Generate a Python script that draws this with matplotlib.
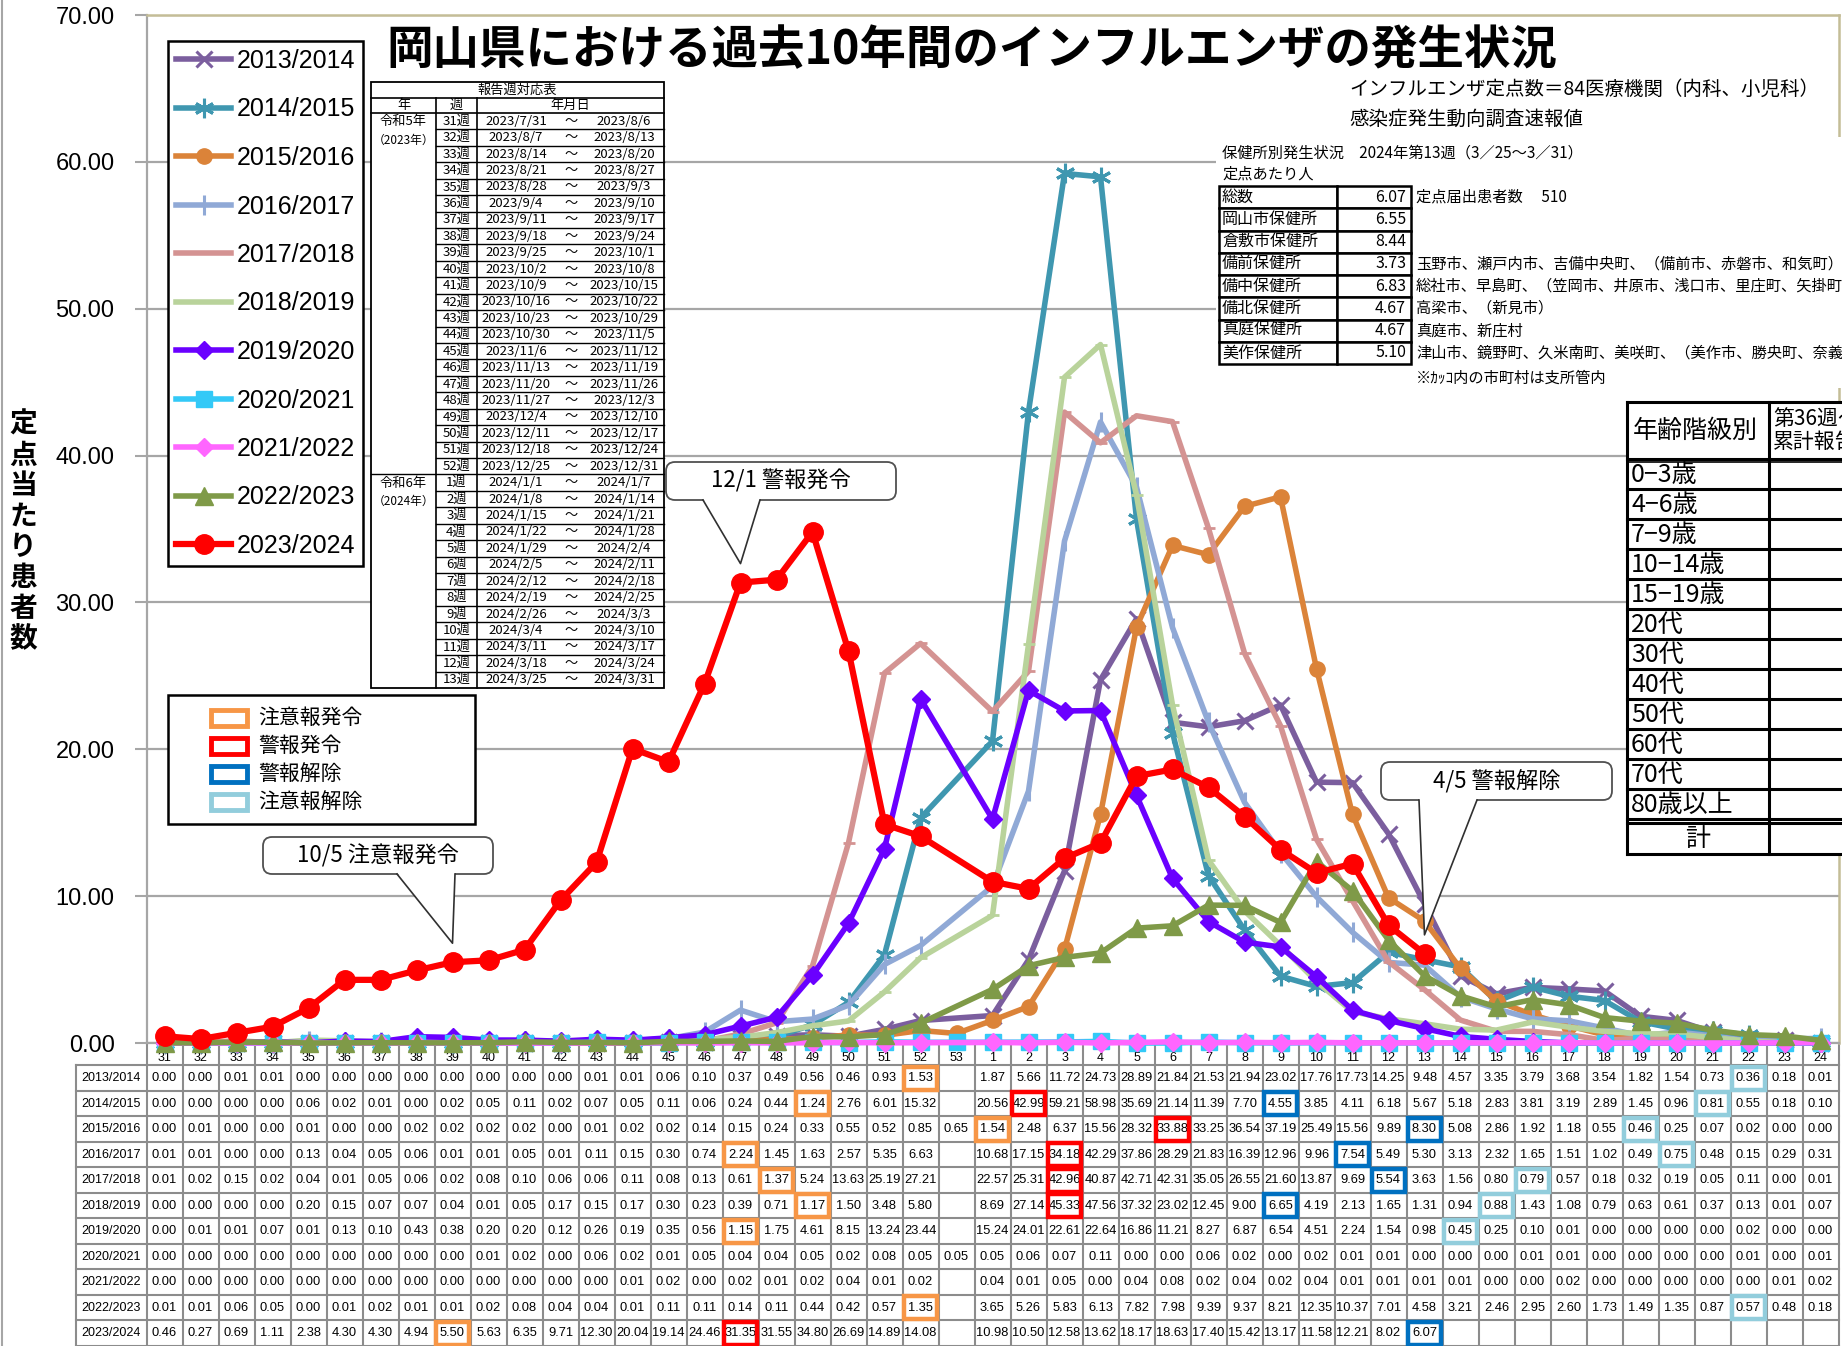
import numpy as np
import matplotlib.pyplot as plt
from matplotlib.patches import Rectangle, FancyBboxPatch, Polygon

plt.rcParams['font.family'] = ['Liberation Sans', 'Noto Sans CJK JP', 'DejaVu Sans']
JP = ['Noto Sans CJK JP', 'DejaVu Sans']

# ---- data -------------------------------------------------------------
weeks = ['31', '32', '33', '34', '35', '36', '37', '38', '39', '40', '41', '42',
         '43', '44', '45', '46', '47', '48', '49', '50', '51', '52', '53',
         '1', '2', '3', '4', '5', '6', '7', '8', '9', '10', '11', '12', '13',
         '14', '15', '16', '17', '18', '19', '20', '21', '22', '23', '24']

seasons = ['2013/2014', '2014/2015', '2015/2016', '2016/2017', '2017/2018',
           '2018/2019', '2019/2020', '2020/2021', '2021/2022', '2022/2023', '2023/2024']

s2013 = [0.00, 0.00, 0.01, 0.01, 0.00, 0.00, 0.00, 0.00, 0.00, 0.00, 0.00, 0.00, 0.01,
         0.01, 0.06, 0.10, 0.37, 0.49, 0.56, 0.46, 0.93, 1.53, None,
         1.87, 5.66, 11.72, 24.73, 28.89, 21.84, 21.53, 21.94, 23.02, 17.76, 17.73, 14.25,
         9.48, 4.57, 3.35, 3.79, 3.68, 3.54, 1.82, 1.54, 0.73, 0.36, 0.18, 0.01]
s2014 = [0.00, 0.00, 0.00, 0.00, 0.06, 0.02, 0.01, 0.00, 0.02, 0.05, 0.11, 0.02, 0.07,
         0.05, 0.11, 0.06, 0.24, 0.44, 1.24, 2.76, 6.01, 15.32, None,
         20.56, 42.99, 59.21, 58.98, 35.69, 21.14, 11.39, 7.70, 4.55, 3.85, 4.11, 6.18,
         5.67, 5.18, 2.83, 3.81, 3.19, 2.89, 1.45, 0.96, 0.81, 0.55, 0.18, 0.10]
s2015 = [0.00, 0.01, 0.00, 0.00, 0.01, 0.00, 0.00, 0.02, 0.02, 0.02, 0.02, 0.00, 0.01,
         0.02, 0.02, 0.14, 0.15, 0.24, 0.33, 0.55, 0.52, 0.85, 0.65,
         1.54, 2.48, 6.37, 15.56, 28.32, 33.88, 33.25, 36.54, 37.19, 25.49, 15.56, 9.89,
         8.30, 5.08, 2.86, 1.92, 1.18, 0.55, 0.46, 0.25, 0.07, 0.02, 0.00, 0.00]
s2016 = [0.01, 0.01, 0.00, 0.00, 0.13, 0.04, 0.05, 0.06, 0.01, 0.01, 0.05, 0.01, 0.11,
         0.15, 0.30, 0.74, 2.24, 1.45, 1.63, 2.57, 5.35, 6.63, None,
         10.68, 17.15, 34.18, 42.29, 37.86, 28.29, 21.83, 16.39, 12.96, 9.96, 7.54, 5.49,
         5.30, 3.13, 2.32, 1.65, 1.51, 1.02, 0.49, 0.75, 0.48, 0.15, 0.29, 0.31]
s2017 = [0.01, 0.02, 0.15, 0.02, 0.04, 0.01, 0.05, 0.06, 0.02, 0.08, 0.10, 0.06, 0.06,
         0.11, 0.08, 0.13, 0.61, 1.37, 5.24, 13.63, 25.19, 27.21, None,
         22.57, 25.31, 42.96, 40.87, 42.71, 42.31, 35.05, 26.55, 21.60, 13.87, 9.69, 5.54,
         3.63, 1.56, 0.80, 0.79, 0.57, 0.18, 0.32, 0.19, 0.05, 0.11, 0.00, 0.01]
s2018 = [0.00, 0.00, 0.00, 0.00, 0.20, 0.15, 0.07, 0.07, 0.04, 0.01, 0.05, 0.17, 0.15,
         0.17, 0.30, 0.23, 0.39, 0.71, 1.17, 1.50, 3.48, 5.80, None,
         8.69, 27.14, 45.33, 47.56, 37.32, 23.02, 12.45, 9.00, 6.65, 4.19, 2.13, 1.65,
         1.31, 0.94, 0.88, 1.43, 1.08, 0.79, 0.63, 0.61, 0.37, 0.13, 0.01, 0.07]
s2019 = [0.00, 0.01, 0.01, 0.07, 0.01, 0.13, 0.10, 0.43, 0.38, 0.20, 0.20, 0.12, 0.26,
         0.19, 0.35, 0.56, 1.15, 1.75, 4.61, 8.15, 13.24, 23.44, None,
         15.24, 24.01, 22.61, 22.64, 16.86, 11.21, 8.27, 6.87, 6.54, 4.51, 2.24, 1.54,
         0.98, 0.45, 0.25, 0.10, 0.01, 0.00, 0.00, 0.00, 0.00, 0.02, 0.00, 0.00]
s2020 = [0.00, 0.00, 0.00, 0.00, 0.00, 0.00, 0.00, 0.00, 0.00, 0.01, 0.02, 0.00, 0.06,
         0.02, 0.01, 0.05, 0.04, 0.04, 0.05, 0.02, 0.08, 0.05, 0.05,
         0.05, 0.06, 0.07, 0.11, 0.00, 0.00, 0.06, 0.02, 0.00, 0.02, 0.01, 0.01,
         0.00, 0.00, 0.00, 0.01, 0.01, 0.00, 0.00, 0.00, 0.00, 0.01, 0.00, 0.01]
s2021 = [0.00, 0.00, 0.00, 0.00, 0.00, 0.00, 0.00, 0.00, 0.00, 0.00, 0.00, 0.00, 0.00,
         0.01, 0.02, 0.00, 0.02, 0.01, 0.02, 0.04, 0.01, 0.02, None,
         0.04, 0.01, 0.05, 0.00, 0.04, 0.08, 0.02, 0.04, 0.02, 0.04, 0.01, 0.01,
         0.01, 0.01, 0.00, 0.00, 0.02, 0.00, 0.00, 0.00, 0.00, 0.00, 0.01, 0.02]
s2022 = [0.01, 0.01, 0.06, 0.05, 0.00, 0.01, 0.02, 0.01, 0.01, 0.02, 0.08, 0.04, 0.04,
         0.01, 0.11, 0.11, 0.14, 0.11, 0.44, 0.42, 0.57, 1.35, None,
         3.65, 5.26, 5.83, 6.13, 7.82, 7.98, 9.39, 9.37, 8.21, 12.35, 10.37, 7.01,
         4.58, 3.21, 2.46, 2.95, 2.60, 1.73, 1.49, 1.35, 0.87, 0.57, 0.48, 0.18]
s2023 = [0.46, 0.27, 0.69, 1.11, 2.38, 4.30, 4.30, 4.94, 5.50, 5.63, 6.35, 9.71, 12.30,
         20.04, 19.14, 24.46, 31.35, 31.55, 34.80, 26.69, 14.89, 14.08, None,
         10.98, 10.50, 12.58, 13.62, 18.17, 18.63, 17.40, 15.42, 13.17, 11.58, 12.21, 8.02,
         6.07, None, None, None, None, None, None, None, None, None, None, None]
values = [s2013, s2014, s2015, s2016, s2017, s2018, s2019, s2020, s2021, s2022, s2023]

# (season, week, alert kind) -> coloured frame in the table
alerts = [('2013/2014', '52', '注意報発令'), ('2013/2014', '22', '注意報解除'),
          ('2014/2015', '49', '注意報発令'), ('2014/2015', '2', '警報発令'),
          ('2014/2015', '9', '警報解除'), ('2014/2015', '21', '注意報解除'),
          ('2015/2016', '1', '注意報発令'), ('2015/2016', '6', '警報発令'),
          ('2015/2016', '13', '警報解除'), ('2015/2016', '19', '注意報解除'),
          ('2016/2017', '47', '注意報発令'), ('2016/2017', '3', '警報発令'),
          ('2016/2017', '11', '警報解除'), ('2016/2017', '20', '注意報解除'),
          ('2017/2018', '48', '注意報発令'), ('2017/2018', '3', '警報発令'),
          ('2017/2018', '12', '警報解除'), ('2017/2018', '16', '注意報解除'),
          ('2018/2019', '49', '注意報発令'), ('2018/2019', '3', '警報発令'),
          ('2018/2019', '9', '警報解除'), ('2018/2019', '15', '注意報解除'),
          ('2019/2020', '47', '注意報発令'), ('2019/2020', '14', '注意報解除'),
          ('2022/2023', '52', '注意報発令'), ('2022/2023', '22', '注意報解除'),
          ('2023/2024', '39', '注意報発令'), ('2023/2024', '47', '警報発令'),
          ('2023/2024', '13', '警報解除')]
alert_kinds = ['注意報発令', '警報発令', '警報解除', '注意報解除']

# callouts: (text, season, week)
callouts = [('10/5 注意報発令', '2023/2024', '39'),
            ('12/1 警報発令', '2023/2024', '47'),
            ('4/5 警報解除', '2023/2024', '13')]

report_weeks = ['31週', '32週', '33週', '34週', '35週', '36週', '37週', '38週', '39週',
                '40週', '41週', '42週', '43週', '44週', '45週', '46週', '47週', '48週',
                '49週', '50週', '51週', '52週', '1週', '2週', '3週', '4週', '5週', '6週',
                '7週', '8週', '9週', '10週', '11週', '12週', '13週']
report_start = ['2023/7/31', '2023/8/7', '2023/8/14', '2023/8/21', '2023/8/28', '2023/9/4',
                '2023/9/11', '2023/9/18', '2023/9/25', '2023/10/2', '2023/10/9', '2023/10/16',
                '2023/10/23', '2023/10/30', '2023/11/6', '2023/11/13', '2023/11/20',
                '2023/11/27', '2023/12/4', '2023/12/11', '2023/12/18', '2023/12/25',
                '2024/1/1', '2024/1/8', '2024/1/15', '2024/1/22', '2024/1/29', '2024/2/5',
                '2024/2/12', '2024/2/19', '2024/2/26', '2024/3/4', '2024/3/11', '2024/3/18',
                '2024/3/25']
report_end = ['2023/8/6', '2023/8/13', '2023/8/20', '2023/8/27', '2023/9/3', '2023/9/10',
              '2023/9/17', '2023/9/24', '2023/10/1', '2023/10/8', '2023/10/15', '2023/10/22',
              '2023/10/29', '2023/11/5', '2023/11/12', '2023/11/19', '2023/11/26',
              '2023/12/3', '2023/12/10', '2023/12/17', '2023/12/24', '2023/12/31',
              '2024/1/7', '2024/1/14', '2024/1/21', '2024/1/28', '2024/2/4', '2024/2/11',
              '2024/2/18', '2024/2/25', '2024/3/3', '2024/3/10', '2024/3/17', '2024/3/24',
              '2024/3/31']

hc_names = ['総数', '岡山市保健所', '倉敷市保健所', '備前保健所', '備中保健所',
            '備北保健所', '真庭保健所', '美作保健所']
hc_values = [6.07, 6.55, 8.44, 3.73, 6.83, 4.67, 4.67, 5.10]
hc_notes = ['定点届出患者数　 510', '', '',
            '玉野市、瀬戸内市、吉備中央町、（備前市、赤磐市、和気町）',
            '総社市、早島町、（笠岡市、井原市、浅口市、里庄町、矢掛町）',
            '高梁市、（新見市）', '真庭市、新庄村',
            '津山市、鏡野町、久米南町、美咲町、（美作市、勝央町、奈義町）']

age_groups = ['0−3歳', '4−6歳', '7−9歳', '10−14歳', '15−19歳', '20代', '30代',
              '40代', '50代', '60代', '70代', '80歳以上']

# ---- styles -----------------------------------------------------------
styles = {
    '2013/2014': dict(color='#7B5E9E', marker='x', ms=11, mew=2.2),
    '2014/2015': dict(color='#3F97B0', marker=(6, 2, 0), ms=14, mew=2.2),
    '2015/2016': dict(color='#DB8339', marker='o', ms=11, mew=1),
    '2016/2017': dict(color='#90A9D6', marker='|', ms=14, mew=2.2),
    '2017/2018': dict(color='#D49392', marker='_', ms=9, mew=2),
    '2018/2019': dict(color='#B9D39B', marker='_', ms=9, mew=2),
    '2019/2020': dict(color='#6A00FF', marker='D', ms=9.5, mew=1),
    '2020/2021': dict(color='#33C9F7', marker='s', ms=11, mew=1),
    '2021/2022': dict(color='#FF66FF', marker='D', ms=9.5, mew=1),
    '2022/2023': dict(color='#7F9A48', marker='^', ms=13, mew=1),
    '2023/2024': dict(color='#FF0000', marker='o', ms=14, mew=1),
}
alert_colors = {'注意報発令': '#F79646', '警報発令': '#FF0000',
                '警報解除': '#0070C0', '注意報解除': '#92CDDC'}
grid_c = '#A6A6A6'
cell_c = '#8C8C8C'

# ---- layout (pixels) ----------------------------------------------------
W, H = 1842, 1346
x0, dx = 164.5, 36.0          # centre of first week, week pitch
y0, ytop = 1043, 15           # y pixel of 0 and 70
fig = plt.figure(figsize=(W / 100, H / 100), dpi=100)

tax = fig.add_axes([76 / W, 0, (x0 + 46.5 * dx - 76) / W, (H - y0) / H])
ax = fig.add_axes([(x0 - dx / 2) / W, 1 - y0 / H, 47 * dx / W, (y0 - ytop) / H])
ov = fig.add_axes([0, 0, 1, 1])
ov.set_xlim(0, W)
ov.set_ylim(H, 0)
ov.axis('off')


def to_px(i, v):
    return x0 + i * dx, y0 - v * (y0 - ytop) / 70.0


# ---- main chart -------------------------------------------------------
xs = np.arange(len(weeks))
for k, (name, vals) in enumerate(zip(seasons, values)):
    v = np.array([np.nan if a is None else a for a in vals])
    m = ~np.isnan(v)
    st = styles[name]
    ax.plot(xs[m], v[m], color=st['color'], lw=4.5 if name == '2023/2024' else 4,
            marker=st['marker'], ms=st['ms'], mew=st['mew'], mec=st['color'],
            mfc=st['color'], label=name, clip_on=False, zorder=3 + k)

ax.set_xlim(-0.5, 46.5)
ax.set_ylim(0, 70)
ax.set_yticks(np.arange(0, 71, 10))
ax.set_yticklabels([f'{t:.2f}' for t in range(0, 71, 10)])
ax.tick_params(axis='y', length=9, width=1.5, color=grid_c, labelsize=17, pad=14)
ax.tick_params(axis='x', length=0, labelbottom=False)
ax.grid(axis='y', color=grid_c, lw=1.6)
ax.set_axisbelow(True)
for s in ['left', 'bottom']:
    ax.spines[s].set_color(grid_c)
    ax.spines[s].set_linewidth(1.6)
for s in ['top', 'right']:
    ax.spines[s].set_color('#C4BD97')
    ax.spines[s].set_linewidth(1.8)

leg = ax.legend(loc='upper left', bbox_to_anchor=(168 / W, 1 - 41 / H),
                bbox_transform=fig.transFigure, fontsize=18, frameon=True,
                fancybox=False, edgecolor='black', framealpha=1, borderpad=0.32,
                labelspacing=0.98, handlelength=2.2, handletextpad=0.22,
                borderaxespad=0)
leg.get_frame().set_linewidth(1.8)
leg.set_zorder(20)

# ---- data table under the chart ----------------------------------------
xl = -0.5 - (x0 - dx / 2 - 76) / dx
tax.set_xlim(xl, 46.5)
tax.set_ylim(len(seasons), -0.875)
tax.axis('off')
for r in range(len(seasons) + 1):
    tax.plot([xl, 46.5], [r, r], color=cell_c, lw=1.5, clip_on=False)
for i in range(len(weeks) + 1):
    tax.plot([i - 0.5, i - 0.5], [-0.875, len(seasons)], color=cell_c, lw=1.5, clip_on=False)
tax.plot([xl, xl], [0, len(seasons)], color=cell_c, lw=1.5, clip_on=False)
for i, w in enumerate(weeks):
    tax.text(i, -0.28, w, ha='center', va='center', fontsize=9)
for r, (name, vals) in enumerate(zip(seasons, values)):
    tax.text((xl - 0.5) / 2, r + 0.5, name, ha='center', va='center', fontsize=9)
    for i, a in enumerate(vals):
        if a is not None:
            tax.text(i, r + 0.5, f'{a:.2f}', ha='center', va='center', fontsize=9.3)
for name, w, kind in alerts:
    r, i = seasons.index(name), weeks.index(w)
    tax.add_patch(Rectangle((i - 0.47, r + 0.05), 0.94, 0.9, fill=False,
                            ec=alert_colors[kind], lw=3.2, zorder=5))

# ---- overlay: titles ----------------------------------------------------
ov.plot([2, 2], [0, H], color=grid_c, lw=1.5)
ov.text(972, 50, '岡山県における過去10年間のインフルエンザの発生状況', family=JP,
        fontsize=33.5, fontweight='bold', ha='center', va='center')
ov.text(1349, 89, 'インフルエンザ定点数＝84医療機関（内科、小児科）', family=JP,
        fontsize=14, ha='left', va='center')
ov.text(1349, 119, '感染症発生動向調査速報値', family=JP, fontsize=14, ha='left', va='center')
ov.text(23, 532, '\n'.join('定点当たり患者数'), family=JP, fontsize=20, fontweight='bold',
        ha='center', va='center', linespacing=1.12)

# ---- overlay: report week table ----------------------------------------
rl, rc1, rc2, rr = 371, 436, 477, 664
rt, rth, rhd, rb = 82, 98, 113, 688
rh = (rb - rhd) / len(report_weeks)
fs_r = 9.5
ov.add_patch(Rectangle((rl, rt), rr - rl, rb - rt, fc='white', ec='black', lw=1.3, zorder=5))
ov.plot([rl, rr], [rth, rth], color='black', lw=1.2, zorder=6)
ov.plot([rl, rr], [rhd, rhd], color='black', lw=1.2, zorder=6)
ov.plot([rc1, rc1], [rth, rb], color='black', lw=1.2, zorder=6)
ov.plot([rc2, rc2], [rth, rb], color='black', lw=1.2, zorder=6)
ov.text((rl + rr) / 2, (rt + rth) / 2, '報告週対応表', family=JP, fontsize=fs_r,
        ha='center', va='center', zorder=7)
for xc, t in [((rl + rc1) / 2, '年'), ((rc1 + rc2) / 2, '週'), ((rc2 + rr) / 2, '年月日')]:
    ov.text(xc, (rth + rhd) / 2, t, family=JP, fontsize=fs_r, ha='center', va='center', zorder=7)
for k in range(len(report_weeks)):
    yt = rhd + k * rh
    if k > 0:
        ov.plot([rc1 if k != 22 else rl, rr], [yt, yt], color='black', lw=1.0, zorder=6)
    yc = yt + rh / 2
    ov.text((rc1 + rc2) / 2, yc, report_weeks[k], family=JP, fontsize=fs_r, ha='center',
            va='center', zorder=7)
    ov.text(516, yc, report_start[k], family=JP, fontsize=fs_r, ha='center', va='center', zorder=7)
    ov.text(571, yc, '〜', family=JP, fontsize=fs_r, ha='center', va='center', zorder=7)
    ov.text(624, yc, report_end[k], family=JP, fontsize=fs_r, ha='center', va='center', zorder=7)
for k, (era, yr) in [(0, ('令和5年', '（2023年）')), (22, ('令和6年', '（2024年）'))]:
    yt = rhd + k * rh
    ov.text((rl + rc1) / 2, yt + 9, era, family=JP, fontsize=9.5, ha='center', va='center', zorder=7)
    ov.text((rl + rc1) / 2, yt + 27, yr, family=JP, fontsize=8.5, ha='center', va='center', zorder=7)

# ---- overlay: alert legend ---------------------------------------------
ov.add_patch(Rectangle((168, 695), 307, 129, fc='white', ec='black', lw=1.8, zorder=5))
for k, kind in enumerate(alert_kinds):
    yc = 718 + k * 28
    ov.add_patch(Rectangle((211, yc - 8), 36, 16, fc='white', ec=alert_colors[kind],
                           lw=3.5, zorder=6))
    ov.text(258, yc, kind, family=JP, fontsize=15, ha='left', va='center', zorder=7)

# ---- overlay: callouts ---------------------------------------------------
boxes = [(263, 837, 493, 874, 397, 455),
         (666, 462, 896, 500, 703, 760),
         (1381, 762, 1612, 800, 1419, 1477)]
for (txt, name, w), (bl, bt, br, bb, b1, b2) in zip(callouts, boxes):
    i = weeks.index(w)
    tx, ty = to_px(i, values[seasons.index(name)][i])
    ty -= 19
    ov.add_patch(FancyBboxPatch((bl, bt), br - bl, bb - bt,
                                boxstyle='round,pad=0,rounding_size=9',
                                fc='white', ec='#505050', lw=1.3, zorder=8))
    ov.add_patch(Polygon([(b1, bb - 1.5), (b2, bb - 1.5), (tx, ty)], closed=True,
                         fc='white', ec='none', zorder=9))
    ov.plot([b1, tx, b2], [bb, ty, bb], color='#303030', lw=1.2, zorder=10)
    ov.text((bl + br) / 2, (bt + bb) / 2, txt, family=JP, fontsize=16,
            ha='center', va='center', zorder=11)

# ---- overlay: health-centre block --------------------------------------
ov.add_patch(Rectangle((1216, 137), W - 1216, 251, fc='white', ec='none', zorder=5))
ov.text(1222, 153, '保健所別発生状況　2024年第13週（3／25～3／31）', family=JP,
        fontsize=11, ha='left', va='center', zorder=7)
ov.text(1222, 174, '定点あたり人', family=JP, fontsize=11, ha='left', va='center', zorder=7)
ht, hrow = 186, 22.25
hl, hm, hr = 1219, 1337, 1411
for k, (nm, val, note) in enumerate(zip(hc_names, hc_values, hc_notes)):
    yt = ht + k * hrow
    ov.add_patch(Rectangle((hl, yt), hm - hl, hrow, fc='white', ec='black', lw=1.8, zorder=6))
    ov.add_patch(Rectangle((hm, yt), hr - hm, hrow, fc='white', ec='black', lw=1.8, zorder=6))
    ov.text(hl + 3, yt + hrow / 2, nm, family=JP, fontsize=11.5, ha='left', va='center', zorder=7)
    ov.text(hr - 5, yt + hrow / 2, f'{val:.2f}', family=JP, fontsize=11.5, ha='right',
            va='center', zorder=7)
    ov.text(hr + 5, yt + hrow / 2, note, family=JP, fontsize=11, ha='left', va='center', zorder=7)
ov.text(hr + 5, 378, '※ｶｯｺ内の市町村は支所管内', family=JP, fontsize=11, ha='left',
        va='center', zorder=7)

# ---- overlay: age table ------------------------------------------------
al, am = 1627, 1769
a_top, a_head, arow = 402, 459, 30.0
ov.add_patch(Rectangle((al, a_top), W - al, 854 - a_top, fc='white', ec='none', zorder=5))
lw_a = 2.2
ov.plot([al, W], [a_top, a_top], color='black', lw=lw_a, zorder=6)
ov.plot([al, W], [a_head, a_head], color='black', lw=lw_a, zorder=6)
ov.plot([al, W], [a_head + 3, a_head + 3], color='black', lw=1.2, zorder=6)
ov.text(al + 6, (a_top + a_head) / 2, '年齢階級別', family=JP, fontsize=18, ha='left',
        va='center', zorder=7)
ov.text(am + 4, (a_top + a_head) / 2, '第36週～\n累計報告数', family=JP, fontsize=15,
        ha='left', va='center', linespacing=1.1, zorder=7)
for k, g in enumerate(age_groups):
    yt = a_head + k * arow
    ov.plot([al, W], [yt + arow, yt + arow], color='black', lw=lw_a, zorder=6)
    ov.text(al + 4, yt + arow / 2 + 1, g, family=JP, fontsize=18, ha='left', va='center', zorder=7)
a_sum = a_head + len(age_groups) * arow + 4
ov.plot([al, W], [a_sum, a_sum], color='black', lw=lw_a, zorder=6)
ov.plot([al, W], [a_sum + 31, a_sum + 31], color='black', lw=lw_a, zorder=6)
ov.text((al + am) / 2, a_sum + 16, '計', family=JP, fontsize=18, ha='center', va='center', zorder=7)
ov.plot([al, al], [a_top, a_sum + 31], color='black', lw=lw_a, zorder=6)
ov.plot([am, am], [a_top, a_sum + 31], color='black', lw=lw_a, zorder=6)

fig.savefig('out.png', dpi=100)
